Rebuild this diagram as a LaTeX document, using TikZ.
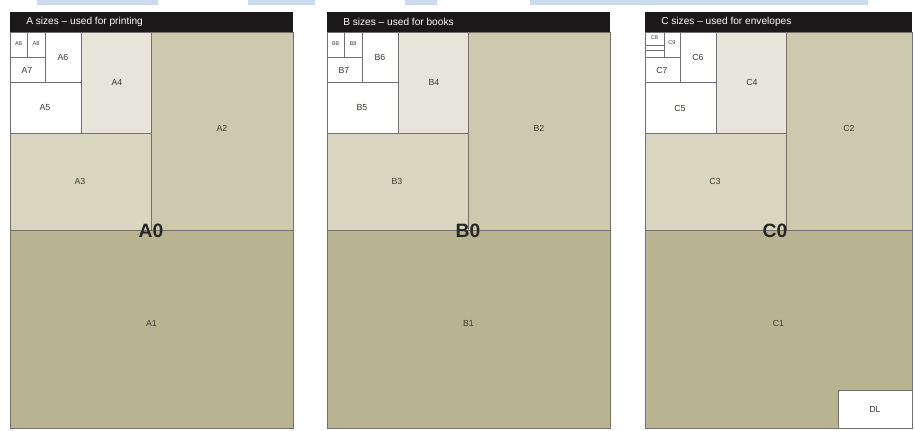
\documentclass[tikz,border=0pt]{standalone}
\usepackage{fontspec}
\setmainfont{Liberation Sans}
\definecolor{sizeone}{HTML}{B8B492}
\definecolor{sizetwo}{HTML}{CDC9AF}
\definecolor{sizethree}{HTML}{D8D6BF}
\definecolor{sizefour}{HTML}{E7E5D9}
\definecolor{headbg}{HTML}{1A1818}
\definecolor{edge}{HTML}{707070}
\definecolor{ink}{HTML}{3C3C34}
\definecolor{haze}{HTML}{C9DCEE}
\tikzset{
  cut/.style={draw=edge, line width=0.6pt},
  lbl/.style={font=\fontsize{6.6}{8}\selectfont, text=ink, inner sep=1pt},
  tinylbl/.style={font=\fontsize{4.2}{5}\selectfont, text=ink, inner sep=0.5pt},
  biglbl/.style={font=\fontsize{14.5}{16}\selectfont\bfseries, text=black!85, inner sep=1pt},
  head/.style={font=\fontsize{7.6}{9}\selectfont, text=white, anchor=west, inner sep=0pt},
}
\begin{document}
\begin{tikzpicture}[x=0.75pt, y=-0.75pt]
  \useasboundingbox (0,0) rectangle (915,430);
  % pale strip along the top edge
  \foreach \a/\b in {37/158, 248/315, 405/437, 530/868}
    \fill[haze] (\a,0) rectangle (\b,5);

  % the three sheets, each halved down to size 7
  \foreach \ox/\w/\s/\what/\zx in {10/283/A/printing/141, 327/283/B/books/141, 645/267/C/envelopes/130} {
    \begin{scope}[shift={(\ox,0)}]
      \fill[headbg] (0,12) rectangle (\w,32);
      \node[head] (\s-head) at (16,22) {\s\ sizes -- used for \what};
      \fill[sizeone] (0,230) rectangle (\w,428);
      \fill[sizetwo] (141,32) rectangle (\w,230);
      \fill[sizethree] (0,133) rectangle (141,230);
      \fill[sizefour] (71,32) rectangle (141,133);
      \fill[white] (0,32) rectangle (71,133);
      \draw[cut] (0,230) -- (\w,230) (141,32) -- (141,230) (0,133) -- (141,133)
                 (71,32) -- (71,133) (0,82) -- (71,82) (35,32) -- (35,82) (0,57) -- (35,57);
      \draw[cut] (0,32) rectangle (\w,428);
      \node[lbl] (\s1) at (\w/2,323) {\s1};
      \node[lbl] (\s2) at ({(141+\w)/2},128) {\s2};
      \node[lbl] (\s3) at (70,181) {\s3};
      \node[lbl] (\s4) at (107,82) {\s4};
      \node[lbl] (\s5) at (35,108) {\s5};
      \node[lbl] (\s6) at (53,57) {\s6};
      \node[lbl] (\s7) at (17,70) {\s7};
      \node[biglbl] (\s0) at (\zx,231) {\s0};
    \end{scope}
  }

  % size 8 pairs for A and B
  \foreach \ox/\s in {10/A, 327/B} {
    \begin{scope}[shift={(\ox,0)}]
      \draw[cut] (17,32) -- (17,57);
      \node[tinylbl] (\s8a) at (8.5,44) {\s8};
      \node[tinylbl] (\s8b) at (26,44) {\s8};
    \end{scope}
  }

  % C: size 8 cut further, plus the DL envelope
  \begin{scope}[shift={(645,0)}]
    \draw[cut] (19,32) -- (19,57) (0,45) -- (19,45) (0,50) -- (19,50);
    \node[tinylbl] (C8) at (9.5,38) {C8};
    \node[tinylbl] (C9) at (27,43) {C9};
    \fill[white] (193,390) rectangle (267,428);
    \draw[cut] (193,428) |- (267,390);
    \node[lbl] (DL) at (230,409) {DL};
  \end{scope}
\end{tikzpicture}
\end{document}
